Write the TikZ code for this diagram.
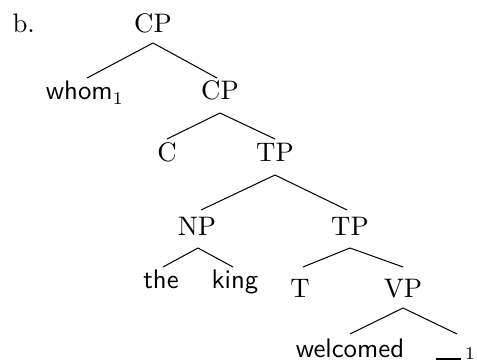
\documentclass[tikz,border=0pt]{standalone}
\usetikzlibrary{calc}
\begin{document}
\begin{tikzpicture}[x=0.392pt,y=-0.392pt,
  lab/.style={inner sep=0pt,anchor=base,font=\fontsize{10.5}{12.6}\selectfont},
  word/.style={lab,font=\fontsize{10.5}{12.6}\selectfont\sffamily},
  edge/.style={line width=0.4pt}]
\useasboundingbox (0,0) rectangle (477,361);
\node[lab,anchor=base west] (b) at (12,33) {b.};
\node[lab] (cp1) at (153,33) {CP};
\node[word] (whom) at (85,100) {whom$_1$};
\node[lab] (cp2) at (220,100) {CP};
\node[lab] (c) at (167,162) {C};
\node[lab] (tp1) at (275,162) {TP};
\node[lab] (np) at (197,235) {NP};
\node[lab] (tp2) at (350,235) {TP};
\node[word] (the) at (161,288) {the};
\node[word] (king) at (235,288) {king};
\node[lab] (t) at (300,297) {T};
\node[lab] (vp) at (403,297) {VP};
\node[word] (welc) at (350,357) {welcomed};
\node[lab,anchor=base west] (trace) at (435,359.5) {\rule{10pt}{0.4pt}\kern1.5pt$\scriptstyle 1$};
% edges
\draw[edge] ($(cp1.base)+(0,10)$) -- ($(whom.base)+(2,-22)$);
\draw[edge] ($(cp1.base)+(0,10)$) -- ($(cp2.base)+(-3,-22)$);
\draw[edge] ($(cp2.base)+(0,13)$) -- ($(c.base)+(0,-23)$);
\draw[edge] ($(cp2.base)+(0,13)$) -- ($(tp1.base)+(0,-23)$);
\draw[edge] ($(tp1.base)+(0,13)$) -- ($(np.base)+(4,-25)$);
\draw[edge] ($(tp1.base)+(0,13)$) -- ($(tp2.base)+(-3,-25)$);
\draw[edge] ($(np.base)+(1,13)$) -- ($(the.base)+(2,-21)$);
\draw[edge] ($(np.base)+(1,13)$) -- ($(king.base)+(-2,-21)$);
\draw[edge] ($(tp2.base)+(0,13)$) -- ($(t.base)+(3,-30)$);
\draw[edge] ($(tp2.base)+(0,13)$) -- ($(vp.base)+(0,-30)$);
\draw[edge] ($(vp.base)+(0,11)$) -- ($(welc.base)+(0,-23)$);
\draw[edge] ($(vp.base)+(0,11)$) -- ($(trace.base west)+(22,-25.5)$);
\end{tikzpicture}
\end{document}
